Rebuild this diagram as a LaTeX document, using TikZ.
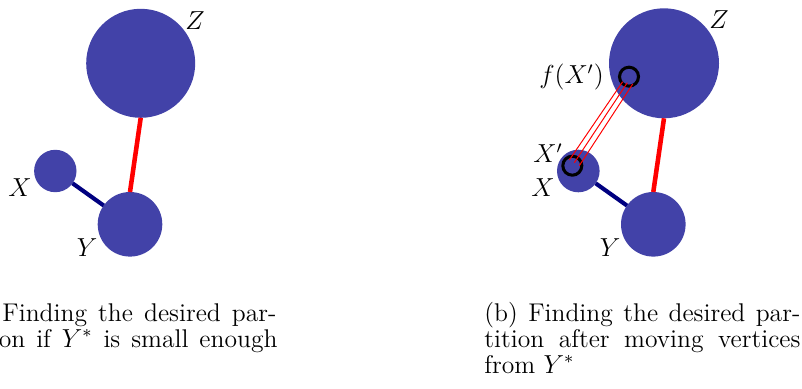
\documentclass[tikz,border=0pt]{standalone}
\usetikzlibrary{calc}
\begin{document}
\begin{tikzpicture}[x=0.4608pt,y=-0.4608pt,
  vert/.style={circle,fill=vfill,draw=none,inner sep=0pt,outer sep=0pt},
  ring/.style={circle,draw=black,line width=1.4pt,fill=none,inner sep=0pt,outer sep=0pt,minimum size=19*0.4608pt},
  redthick/.style={draw=red,line width=2.1pt},
  navyline/.style={draw=navyc,line width=1.9pt},
  redthin/.style={draw=red,line width=0.45pt},
  lbl/.style={inner sep=0pt,font=\fontsize{11.8}{14}\selectfont},
  captext/.style={anchor=base west,inner sep=0pt,font=\fontsize{11.8}{12}\selectfont},
  captextr/.style={anchor=base east,inner sep=0pt,font=\fontsize{11.8}{12}\selectfont}]
\definecolor{vfill}{RGB}{66,66,168}
\definecolor{navyc}{RGB}{0,0,128}
\useasboundingbox (0,0) rectangle (802,389);
\clip (0,0) rectangle (802,389);

% ---------- panel (a) ----------
\node[vert,minimum size=109*0.4608pt] (Za) at (140.7,63.3) {};
\node[vert,minimum size=42.4*0.4608pt] (Xa) at (55.3,171) {};
\node[vert,minimum size=64.6*0.4608pt] (Ya) at (130,224.3) {};
\draw[redthick] (Za.south) -- (Ya.north);
\draw[navyline] (Xa) -- (Ya);
\node[lbl] (LZa) at (195,21) {$Z$};
\node[lbl] (LXa) at (20,188) {$X$};
\node[lbl] (LYa) at (87,248) {$Y$};

% ---------- panel (b) ----------
\node[vert,minimum size=110*0.4608pt] (Zb) at (664,63.3) {};
\node[vert,minimum size=42.6*0.4608pt] (Xb) at (578.3,171) {};
\node[vert,minimum size=64.6*0.4608pt] (Yb) at (653.3,224.3) {};
\draw[redthick] (Zb.south) -- (Yb.north);
\draw[navyline] (Xb) -- (Yb);
\node[ring] (Xp) at (572.3,165.7) {};
\node[ring] (fXp) at (629,76.7) {};
\coordinate (s1) at ($(Xp.center)+(-3,-5.7)$);
\coordinate (s2) at ($(Xp.center)+(2,-3)$);
\coordinate (s3) at ($(Xp.center)+(7,0)$);
\coordinate (e1) at ($(fXp.center)+(-6.3,5)$);
\coordinate (e2) at ($(fXp.center)+(-1.7,6)$);
\coordinate (e3) at ($(fXp.center)+(3.7,7.3)$);
\draw[redthin] (s1) -- (e1);
\draw[redthin] (s2) -- (e2);
\draw[redthin] (s3) -- (e3);
\node[lbl] (LZb) at (719,20) {$Z$};
\node[lbl] (LXb) at (543,188) {$X$};
\node[lbl] (LYb) at (610,248) {$Y$};
\node[lbl] (LXpb) at (548,153) {$X'$};
\node[lbl] (LfXp) at (571.5,77) {$f(X')$};

% ---------- captions ----------
\node[captextr] (ca1) at (277,321) {(a)\hspace{3.9pt}\makebox[126.3pt][s]{Finding the desired par-}};
\node[captext] (ca2) at (-35,347) {\makebox[143.8pt][s]{tition if $Y^*$ is small enough}};
\node[captext] (cb1) at (484,321) {\makebox[145.6pt][s]{(b) Finding the desired par-}};
\node[captext] (cb2) at (484,347) {\makebox[145.6pt][s]{tition after moving vertices}};
\node[captext] (cb3) at (484,373) {from $Y^*$};
\end{tikzpicture}
\end{document}
